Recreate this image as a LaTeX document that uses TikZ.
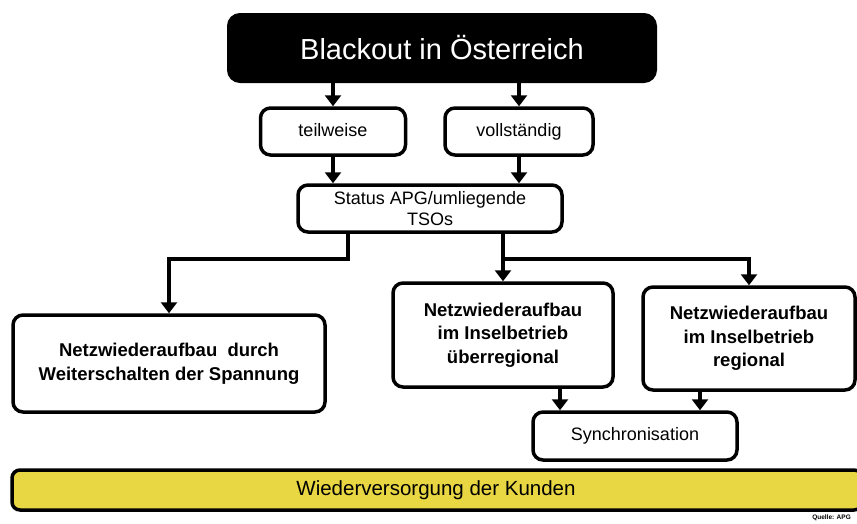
\documentclass[tikz,border=0pt]{standalone}
\usepackage{fontspec}
\setmainfont{Liberation Sans}
\usetikzlibrary{arrows.meta}
\definecolor{baryellow}{HTML}{E8D742}
\tikzset{
  box/.style={draw=black, line width=3.5pt, rounded corners=10pt, fill=white, align=center, inner sep=2pt,
    font=\fontsize{18}{21}\selectfont},
  onebox/.style={box, text height=9pt, text depth=0pt},
  boldbox/.style={box, font=\bfseries\fontsize{18.5}{23.5}\selectfont},
  arr/.style={line width=3.5pt, -{Triangle[width=16pt,length=11pt]}},
  ln/.style={line width=3.5pt}
}
\begin{document}
\begin{tikzpicture}[x=1pt,y=-1pt]
\useasboundingbox (0,0) rectangle (857,523);
\node[draw=black, fill=black, rounded corners=12pt, line width=2pt, minimum width=428pt, minimum height=68pt,
  text=white, font=\fontsize{29}{33}\selectfont] (title) at (442,48) {Blackout in Österreich};
\node[onebox, minimum width=145pt, minimum height=47pt] (teil) at (333,131.5) {teilweise};
\node[onebox, minimum width=148pt, minimum height=47pt] (voll) at (519,131.5) {vollständig};
\node[box, minimum width=264pt, minimum height=47pt] (status) at (430,208.5) {Status APG/umliegende\\TSOs};
\node[boldbox, minimum width=312pt, minimum height=97pt] (left) at (169,363.5) {Netzwiederaufbau \ durch\\Weiterschalten der Spannung};
\node[boldbox, minimum width=220pt, minimum height=104pt] (ueber) at (503,335) {Netzwiederaufbau\\im Inselbetrieb\\überregional};
\node[boldbox, minimum width=212pt, minimum height=103pt] (reg) at (749,338.5) {Netzwiederaufbau\\im Inselbetrieb\\regional};
\node[onebox, minimum width=204pt, minimum height=48pt] (sync) at (635,436) {Synchronisation};
\node[draw=black, fill=baryellow, line width=3.5pt, rounded corners=8pt, minimum width=850pt, minimum height=40pt,
  font=\fontsize{20.5}{24}\selectfont] (bar) at (437,490) {\hspace*{-2pt}Wiederversorgung der Kunden};
\node[font=\bfseries\fontsize{6.5}{7}\selectfont, anchor=east, inner sep=0pt] (src) at (851,518) {Quelle: APG};
% arrows
\draw[arr] (title.south -| teil.north) -- (teil.north);
\draw[arr] (title.south -| voll.north) -- (voll.north);
\draw[arr] (teil.south) -- (teil.south |- status.north);
\draw[arr] (voll.south) -- (voll.south |- status.north);
\coordinate (s1) at (348,0);
\coordinate (s2) at (503,0);
\coordinate (ylev) at (0,259);
\draw[arr] (s1 |- status.south) -- (s1 |- ylev) -- (left.north |- ylev) -- (left.north);
\draw[arr] (s2 |- status.south) -- (ueber.north);
\draw[arr] (s2 |- ylev) -- (reg.north |- ylev) -- (reg.north);
\coordinate (u1) at (560,0);
\coordinate (r1) at (700,0);
\draw[arr] (u1 |- ueber.south) -- (u1 |- sync.north);
\draw[arr] (r1 |- reg.south) -- (r1 |- sync.north);
\end{tikzpicture}
\end{document}
